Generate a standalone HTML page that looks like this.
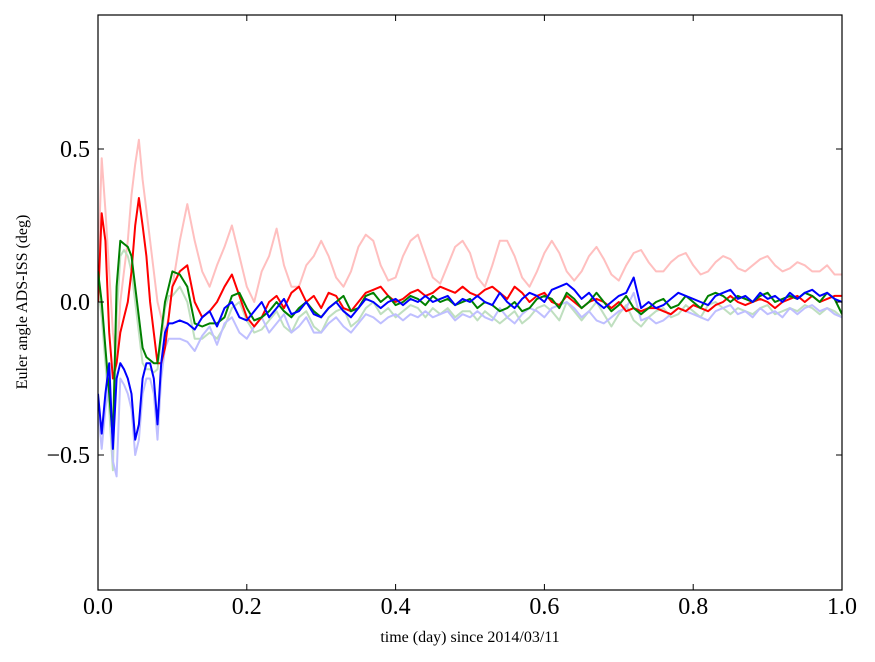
<!DOCTYPE html>
<html><head><meta charset="utf-8"><style>
body{margin:0;background:#fff}
svg{display:block;font-family:"Liberation Serif",serif}
</style></head><body>
<svg id="chart" width="875" height="662">
<defs><clipPath id="clip"><rect x="98" y="15" width="744" height="575"/></clipPath></defs>
<g id="series" clip-path="url(#clip)"></g>
<rect x="98" y="15" width="744" height="575" fill="none" stroke="#000" stroke-width="1.2"/>
<g id="axes"></g>
<text x="470" y="642" font-size="16" text-anchor="middle">time (day) since 2014/03/11</text>
<text transform="translate(27,302) rotate(-90)" font-size="16" text-anchor="middle">Euler angle ADS-ISS (deg)</text>
</svg>
<script>
const earlyTimes=[0,0.005,0.01,0.015,0.02,0.025,0.03,0.035,0.04,0.045,0.05,0.055,0.06,0.065,0.07,0.075,0.08,0.085,0.09,0.095];
const pinkVals=[0.1,0.47,0.3,0.1,-0.1,-0.2,0.0,0.1,0.2,0.35,0.45,0.53,0.4,0.3,0.2,0.1,0.0,-0.05,-0.1,-0.05,
0.05,0.2,0.32,0.2,0.1,0.05,0.12,0.18,0.25,0.15,0.05,0.0,0.1,0.15,0.24,0.12,0.05,0.05,0.12,0.15,0.2,0.15,0.08,0.05,0.1,0.18,0.22,0.2,0.12,0.07,0.08,0.15,0.2,0.22,0.15,0.08,0.06,0.12,0.18,0.2,0.16,0.08,0.05,0.12,0.2,0.2,0.15,0.08,0.05,0.1,0.16,0.2,0.16,0.1,0.07,0.1,0.15,0.18,0.14,0.09,0.07,0.12,0.16,0.17,0.13,0.1,0.1,0.13,0.15,0.16,0.12,0.09,0.1,0.13,0.15,0.14,0.11,0.1,0.12,0.14,0.15,0.12,0.1,0.11,0.13,0.12,0.1,0.1,0.12,0.09,0.09];
const redVals=[0.0,0.29,0.2,-0.1,-0.25,-0.2,-0.1,-0.05,0.0,0.1,0.25,0.34,0.25,0.15,0.0,-0.1,-0.2,-0.2,-0.15,-0.05,
0.05,0.10,0.12,0.00,-0.05,-0.03,0.00,0.05,0.09,0.02,
-0.05,-0.08,-0.05,0.00,0.02,-0.02,0.03,0.05,0.00,0.02,
-0.02,0.03,0.02,-0.02,-0.03,0.00,0.03,0.04,0.05,0.02,
0.00,0.01,0.03,0.04,0.02,0.03,0.05,0.04,0.03,0.05,
0.03,0.02,0.04,0.05,0.03,0.01,0.05,0.03,0.00,0.02,
0.03,0.00,-0.01,0.02,0.00,-0.02,0.00,0.01,0.00,-0.02,
0.00,-0.03,-0.02,-0.03,-0.02,-0.02,-0.03,-0.04,-0.02,-0.03,
-0.01,-0.02,-0.03,-0.01,0.00,0.02,0.00,-0.01,0.00,0.01,
0.00,-0.02,0.00,0.01,0.02,0.00,0.02,0.00,0.01,0.02,0.02];
const greenVals=[0.1,0.0,-0.15,-0.3,-0.45,0.05,0.2,0.19,0.18,0.15,0.05,-0.05,-0.15,-0.18,-0.19,-0.2,-0.2,-0.1,0.0,0.05,
0.10,0.09,0.05,-0.07,-0.08,-0.07,-0.07,-0.05,0.02,0.03,
-0.02,-0.06,-0.05,-0.03,0.00,-0.03,-0.05,-0.02,0.00,-0.03,
-0.05,-0.02,0.00,0.02,-0.03,-0.02,0.02,0.03,0.00,0.02,
-0.01,0.00,0.02,0.01,-0.01,0.02,0.00,0.01,-0.01,0.00,
0.01,-0.02,0.00,-0.01,-0.03,-0.02,0.00,-0.03,-0.02,0.01,
0.02,0.01,-0.02,0.03,0.01,-0.02,0.00,0.03,0.00,-0.03,
-0.01,0.02,-0.02,-0.04,-0.02,0.00,0.01,-0.02,-0.01,0.02,
0.00,-0.02,0.02,0.03,0.02,0.00,0.02,0.01,0.00,0.02,
0.03,0.00,0.01,0.02,0.01,0.03,0.02,0.00,0.03,0.01,-0.04];
const lightGreenVals=[0.05,-0.05,-0.2,-0.35,-0.55,-0.05,0.15,0.17,0.15,0.1,0.0,-0.1,-0.2,-0.22,-0.22,-0.23,-0.22,-0.12,-0.02,0.02,
0.02,0.05,0.0,-0.12,-0.12,-0.1,-0.12,-0.08,-0.02,0.0,
-0.06,-0.1,-0.09,-0.06,-0.03,-0.08,-0.1,-0.05,-0.03,-0.08,
-0.1,-0.05,-0.03,-0.02,-0.08,-0.06,-0.02,0.0,-0.04,-0.02,
-0.05,-0.03,-0.01,-0.02,-0.05,-0.02,-0.04,-0.02,-0.05,-0.03,
-0.03,-0.06,-0.03,-0.05,-0.07,-0.05,-0.03,-0.07,-0.05,-0.02,
-0.01,-0.03,-0.06,0.0,-0.03,-0.06,-0.03,0.0,-0.04,-0.08,
-0.04,-0.01,-0.06,-0.08,-0.05,-0.03,-0.02,-0.05,-0.04,-0.01,
-0.03,-0.05,-0.01,0.0,-0.02,-0.04,-0.02,-0.03,-0.04,-0.02,
-0.01,-0.04,-0.03,-0.02,-0.03,-0.01,-0.02,-0.04,-0.02,-0.03,-0.05];
const blueVals=[-0.3,-0.43,-0.3,-0.2,-0.48,-0.25,-0.2,-0.22,-0.25,-0.3,-0.45,-0.4,-0.25,-0.2,-0.2,-0.25,-0.4,-0.2,-0.1,-0.07,
-0.07,-0.06,-0.07,-0.09,-0.05,-0.03,-0.08,-0.02,0.00,-0.05,
-0.06,-0.03,0.00,-0.05,-0.02,0.01,-0.04,-0.03,0.00,-0.04,
-0.05,-0.02,0.00,-0.03,-0.05,-0.02,0.01,0.00,-0.02,0.00,
0.01,-0.01,0.01,0.00,0.02,0.00,0.01,0.02,-0.01,0.01,
0.00,0.02,0.00,-0.01,0.03,0.00,-0.02,0.01,0.03,0.02,
0.00,0.04,0.05,0.06,0.04,0.01,0.03,0.00,-0.02,0.00,
0.02,0.03,0.08,-0.02,0.00,-0.02,-0.01,0.01,0.03,0.02,
0.01,0.00,-0.01,0.02,0.03,0.04,0.01,0.02,0.00,0.03,
0.01,0.02,0.00,0.03,0.01,0.03,0.04,0.02,0.03,0.01,0.00];
const lightBlueVals=[-0.35,-0.48,-0.35,-0.25,-0.52,-0.57,-0.25,-0.27,-0.3,-0.35,-0.5,-0.45,-0.3,-0.25,-0.25,-0.3,-0.45,-0.25,-0.15,-0.12,
-0.12,-0.12,-0.13,-0.16,-0.11,-0.08,-0.14,-0.07,-0.05,-0.1,
-0.12,-0.08,-0.05,-0.1,-0.07,-0.04,-0.1,-0.08,-0.05,-0.1,
-0.1,-0.07,-0.05,-0.08,-0.1,-0.07,-0.04,-0.05,-0.07,-0.05,
-0.04,-0.06,-0.04,-0.05,-0.03,-0.05,-0.04,-0.03,-0.06,-0.04,
-0.05,-0.03,-0.05,-0.06,-0.02,-0.05,-0.07,-0.04,-0.02,-0.03,
-0.05,-0.02,-0.01,0.0,-0.02,-0.05,-0.03,-0.06,-0.07,-0.05,
-0.03,-0.02,0.03,-0.06,-0.05,-0.07,-0.06,-0.04,-0.02,-0.03,
-0.04,-0.05,-0.06,-0.03,-0.02,-0.01,-0.04,-0.03,-0.05,-0.02,
-0.04,-0.03,-0.05,-0.02,-0.04,-0.02,-0.01,-0.03,-0.02,-0.04,-0.05];
const xTicks=[0,0.2,0.4,0.6,0.8,1.0];
const xTickLabels=["0.0","0.2","0.4","0.6","0.8","1.0"];
const yTicks=[0.5,0,-0.5];
const yTickLabels=["0.5","0.0","\u22120.5"];

const times=earlyTimes.slice();
for(let i=10;i<=100;i++) times.push(i/100);
const X0=98,X1=842,Y0=302,YS=306;
const xs=t=>X0+t*(X1-X0);
const ys=v=>Y0-v*YS;
const NS="http://www.w3.org/2000/svg";
const sg=document.getElementById('series');
function drawLine(vals,color,width,name){
  const n=Math.min(vals.length,times.length);
  let d="";
  for(let i=0;i<n;i++) d+=(i?"L":"M")+xs(times[i]).toFixed(1)+","+ys(vals[i]).toFixed(1);
  const p=document.createElementNS(NS,'path');
  p.setAttribute('d',d);p.setAttribute('fill','none');p.setAttribute('stroke',color);
  p.setAttribute('stroke-width',width);p.setAttribute('stroke-linejoin','round');
  
  
  sg.appendChild(p);
}
drawLine(pinkVals,'#ffbfbf',2,'series-light-red');
drawLine(lightGreenVals,'#bfdfbf',2,'series-light-green');
drawLine(lightBlueVals,'#bfbfff',2,'series-light-blue');
drawLine(redVals,'#ff0000',2,'series-red');
drawLine(greenVals,'#008000',2,'series-green');
drawLine(blueVals,'#0000ff',2,'series-blue');

const ag=document.getElementById('axes');
function mk(tag,attrs){const e=document.createElementNS(NS,tag);for(const k in attrs)e.setAttribute(k,attrs[k]);ag.appendChild(e);return e;}
xTicks.forEach((t,i)=>{
  const x=xs(t);
  const a=mk('line',{x1:x,x2:x,y1:590,y2:584,stroke:'#000'});
  
  
  const b=mk('line',{x1:x,x2:x,y1:15,y2:21,stroke:'#000'});
  
  
  const tx=mk('text',{x:x,y:614,'font-size':24,'text-anchor':'middle'});
  tx.textContent=xTickLabels[i];
  
  
});
yTicks.forEach((v,i)=>{
  const y=ys(v);
  const a=mk('line',{x1:98,x2:104,y1:y,y2:y,stroke:'#000'});
  
  
  const b=mk('line',{x1:836,x2:842,y1:y,y2:y,stroke:'#000'});
  
  
  const tx=mk('text',{x:90,y:y+8,'font-size':24,'text-anchor':'end'});
  tx.textContent=yTickLabels[i];
  
  
});
</script>
</body></html>
